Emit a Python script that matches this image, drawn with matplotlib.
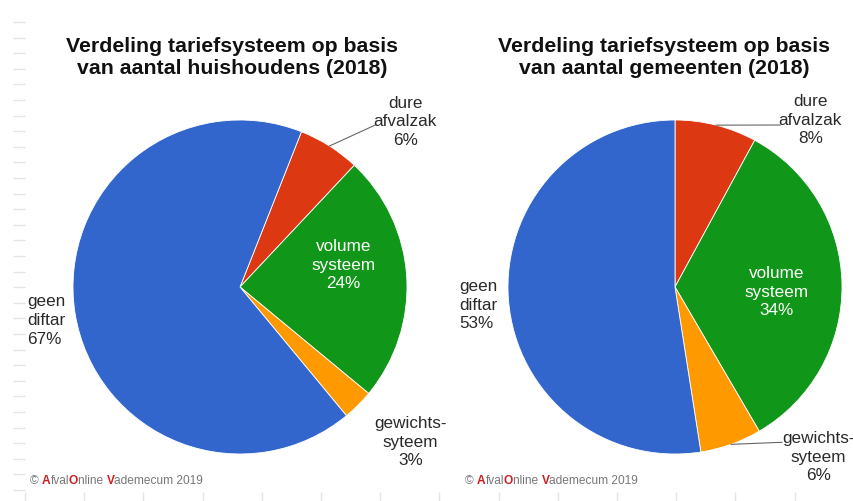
import numpy as np
import matplotlib.pyplot as plt
from matplotlib import font_manager

plt.rcParams['font.family'] = ['Liberation Sans', 'DejaVu Sans']

# data: order is dure afvalzak, volume systeem, gewichtssysteem, geen diftar
labels = ["dure\nafvalzak", "volume\nsysteem", "gewichts-\nsyteem", "geen\ndiftar"]
huishoudens = [6, 24, 3, 67]
gemeenten = [8, 34, 6, 53]
titels = ["Verdeling tariefsysteem op basis\nvan aantal huishoudens (2018)",
          "Verdeling tariefsysteem op basis\nvan aantal gemeenten (2018)"]
kleuren = ["#DC3912", "#109618", "#FF9900", "#3366CC"]

W, H = 854, 501
fig = plt.figure(figsize=(W / 100, H / 100), dpi=100)

# faint axis ticks along the left and bottom edge
bg = fig.add_axes([25 / W, 9 / H, 1 - 25 / W, 1 - 9 / H])
bg.set_xlim(0, W - 25)
bg.set_ylim(0, H - 9)
for s in bg.spines.values():
    s.set_visible(False)
bg.set_xticks(np.arange(0, W - 25, 59.2))
bg.set_yticks(np.arange(2, H - 20, 15.6))
bg.tick_params(colors="#e4e4e4", length=9, width=1, labelleft=False, labelbottom=False)
bg.patch.set_alpha(0)

names = {f.name for f in font_manager.fontManager.ttflist}
tfam = ['Liberation Sans Narrow', 'Liberation Sans'] if 'Liberation Sans Narrow' in names else ['Liberation Sans']


def taart(cx, cy, r, waarden, start, titel, tx, pos):
    ax = fig.add_axes([(cx - r) / W, (H - cy - r) / H, 2 * r / W, 2 * r / H])
    wedges, _ = ax.pie(waarden, colors=kleuren, startangle=start, counterclock=False,
                       wedgeprops=dict(edgecolor="white", linewidth=0.6))
    ax.set_xlim(-1, 1)
    ax.set_ylim(-1, 1)
    ax.set_aspect("equal")
    ax.axis("off")
    for i, (w, lab, v) in enumerate(zip(wedges, labels, waarden)):
        x, y, ha, lijn = pos[i]
        kleur = "white" if i == 1 else "#2a2a2a"
        ax.text(x, y, f"{lab}\n{v}%", ha=ha, va="center", fontsize=12.3,
                color=kleur, linespacing=1.3, clip_on=False)
        if lijn is not None:
            a = np.deg2rad((w.theta1 + w.theta2) / 2)
            ax.plot([np.cos(a) * lijn[0], lijn[1]], [np.sin(a) * lijn[0], lijn[2]],
                    color="#666666", lw=0.8, clip_on=False)
    fig.text(tx / W, 1 - 58 / H, titel, ha="center", va="center", fontsize=15.3,
             fontweight="bold", family=tfam, linespacing=1.2, color="#111111")


# left: huishoudens
taart(240, 287, 167, huishoudens, 90 - 21.6, titels[0], 232,
      [(0.99, 0.99, "center", (1.0, 0.81, 0.97)),
       (0.62, 0.13, "center", None),
       (1.02, -0.93, "center", None),
       (-1.275, -0.2, "left", None)])

# right: gemeenten
taart(675, 287, 167, gemeenten, 90, titels[1], 664,
      [(0.81, 1.0, "center", (1.0, 0.63, 0.97)),
       (0.61, -0.03, "center", None),
       (0.86, -1.02, "center", (1.0, 0.64, -0.93)),
       (-1.29, -0.11, "left", None)])


# © AfvalOnline Vademecum 2019, with the initials in red
bron_delen = [("© ", "#777777", "normal"), ("A", "#cc1f1f", "bold"), ("fval", "#777777", "normal"),
              ("O", "#cc1f1f", "bold"), ("nline ", "#777777", "normal"), ("V", "#cc1f1f", "bold"),
              ("ademecum 2019", "#777777", "normal")]
renderer = fig.canvas.get_renderer()
for x0 in (30, 465):
    x = x0
    for tekst, kl, fw in bron_delen:
        t = fig.text(x / W, 1 - 481 / H, tekst, fontsize=8.6, color=kl, fontweight=fw,
                     va="center", ha="left")
        ext = t.get_window_extent(renderer)
        x = ext.x1

fig.savefig("out.png", dpi=100)
